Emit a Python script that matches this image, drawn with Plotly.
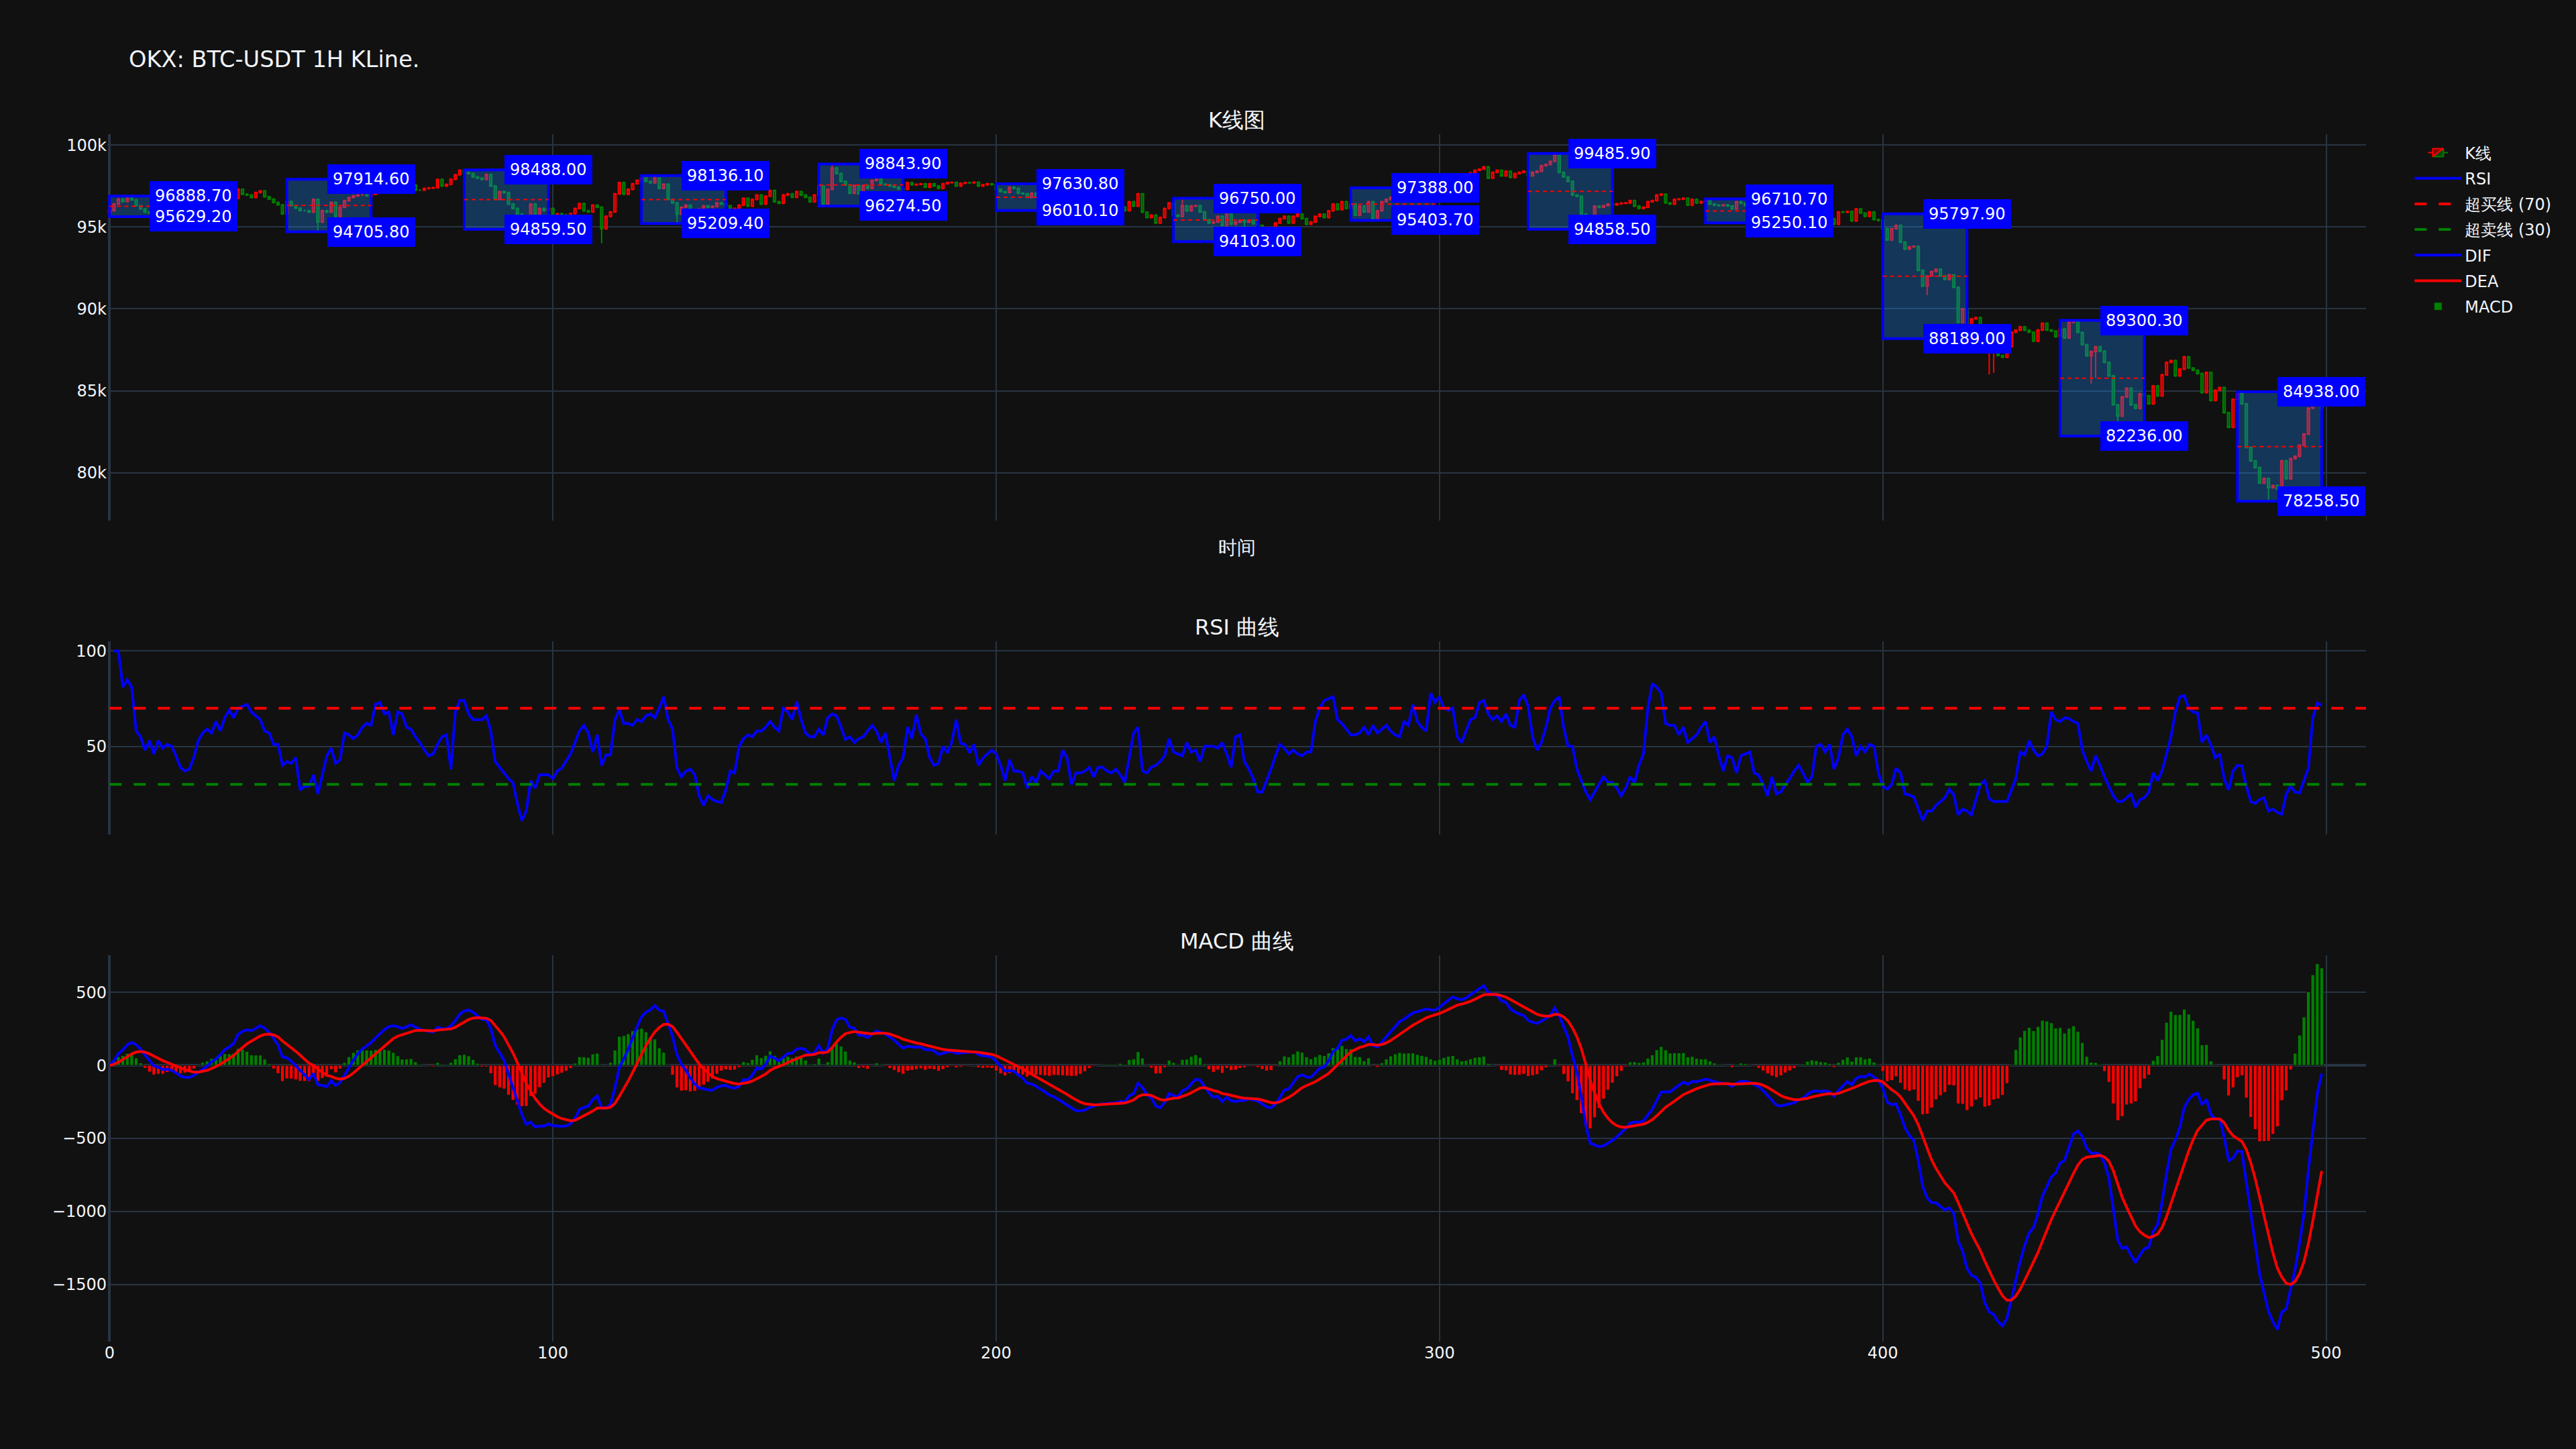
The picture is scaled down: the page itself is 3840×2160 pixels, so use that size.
import pandas as pd
import plotly.graph_objects as go
from plotly.subplots import make_subplots

# ---------------- data ----------------
closes = [
    96000, 96400, 96700, 96550, 96750, 96650, 96300, 96100, 95900, 95850,
    95750, 96000, 95900, 96050, 95950, 95800, 95700, 95780, 95850, 96000,
    96150, 96250, 96200, 96400, 96350, 96550, 96700, 96600, 96750, 97300,
    97000, 96950, 96800, 97100, 97200, 96850, 96700, 96500, 96350, 95800,
    96550, 96300, 96150, 96000, 96000, 95900, 96680, 95300, 96000, 95900,
    96500, 95650, 96200, 96600, 96800, 96900, 96950, 96950, 96900, 97000,
    97200, 97300, 97350, 97400, 97300, 97200, 97150, 97450, 97550, 97250,
    97250, 97350, 97380, 97400, 97900, 97500, 97600, 97910, 98190, 98460,
    98325, 98260, 98050, 97980, 97900, 98200, 97500, 96680, 97160, 97090,
    96400, 96130, 95780, 95700, 95600, 96400, 95780, 96130, 96000, 96130,
    95785, 95800, 95750, 95750, 95820, 96130, 96430, 95990, 95920, 96330,
    96200, 94890, 95650, 95920, 97020, 97710, 97000, 97300, 97640, 97850,
    97980, 97780, 97700, 97980, 97360, 97610, 96680, 96470, 95780, 96200,
    96330, 96060, 96060, 96100, 96290, 96200, 96250, 96470, 96400, 96300,
    96100, 96130, 96330, 96750, 96270, 96680, 96950, 96400, 96880, 97230,
    96540, 96450, 96950, 97020, 96810, 97160, 96950, 96810, 96540, 96950,
    97500, 96400, 97300, 98600, 98260, 97780, 97570, 97060, 97530, 97020,
    97530, 97360, 97840, 97910, 97610, 97570, 97500, 97430, 97320, 97300,
    97710, 97570, 97600, 97640, 97430, 97640, 97500, 97360, 97640, 97710,
    97720, 97500, 97670, 97710, 97700, 97730, 97500, 97570, 97640, 97580,
    97300, 97160, 97100, 97430, 97360, 97060, 97020, 96810, 97060, 96900,
    96800, 96700, 96600, 96650, 96500, 96400, 96300, 96200, 96150, 96250,
    96300, 96400, 96350, 96300, 96250, 96200, 96150, 96100, 96200, 96000,
    96540, 96270, 97020, 95900, 95580, 95720, 95240, 95580, 96130, 96470,
    95720, 95650, 96290, 95990, 96270, 96300, 95920, 95440, 95240, 95300,
    95650, 95100, 95780, 95170, 95300, 95400, 95300, 95400, 95200, 95100,
    94900, 94800, 94900, 95240, 95510, 95650, 95240, 95650, 95780, 95510,
    95170, 95300, 95650, 95780, 95580, 95990, 96400, 96060, 96540, 96130,
    96400, 95720, 96270, 95920, 96540, 95510, 95990, 96540, 96680, 96810,
    96900, 97000, 96950, 97100, 97200, 97150, 97250, 97300, 97200, 97300,
    97600, 97800, 97900, 98000, 97700, 97800, 98100, 98300, 98460, 98530,
    98670, 97980, 98330, 98460, 98120, 98400, 98020, 98260, 98330, 98400,
    98120, 98330, 98400, 98740, 98810, 99010, 99420, 98330, 98050, 97780,
    96950, 96880, 95780, 95030, 95300, 96270, 96200, 96300, 96400, 96350,
    96420, 96450, 96470, 96610, 96270, 96130, 96200, 96540, 96610, 96950,
    97000, 96470, 96400, 96680, 96700, 96750, 96330, 96680, 96470, 96550,
    96610, 96400, 96330, 96300, 96350, 96280, 96100, 96540, 96450, 96300,
    96200, 96100, 96000, 95800, 95600, 95500, 95400, 95600, 95700, 95650,
    95700, 95800, 95750, 95900, 95850, 95700, 95600, 95650, 95500, 95170,
    95920, 95900, 95950, 95370, 96100, 95850, 95650, 95920, 95450, 95400,
    94890, 94205, 94890, 95100, 94070, 93650, 93790, 93820, 92350, 91390,
    92010, 92280, 92420, 92010, 91800, 92080, 91320, 89180, 90000, 89000,
    89390, 89470, 88900, 87400, 87700, 87850, 87150, 87050, 87700, 88580,
    88700, 88900, 88700, 88580, 88030, 88710, 89120, 88710, 88650, 88300,
    88770, 88230, 89180, 89200, 88570, 87820, 87130, 87400, 87690, 87420,
    86735, 85915, 84140, 83460, 84620, 85160, 84140, 83930, 84820, 84700,
    84207, 85300, 84690, 85980, 86735, 86850, 85915, 86325, 87075, 86390,
    86255, 86050, 84890, 86120, 84410, 85030, 85200, 83660, 82770, 84480,
    84822, 84200, 81545, 80724, 80315, 79358, 79650, 79085, 79220, 79000,
    80724, 79630, 80860, 81000, 81680, 82365, 83935, 84300, 84700, 83950,
]
first_open = 95900
typical_wick = 60
# candles whose high / low reach visibly beyond the body
high_wicks = {4: 96888.7, 57: 97914.6, 80: 98488.0, 123: 98136.1, 163: 98843.9,
              200: 97630.8, 242: 96750.0, 299: 97388.0, 326: 99485.9, 360: 96710.7,
              400: 95797.9, 443: 89300.3, 480: 84938.0}
low_wicks = {10: 95629.2, 47: 94705.8, 93: 94859.5, 111: 94000.0, 128: 95209.4,
             161: 96274.5, 218: 96010.1, 256: 94103.0, 285: 95403.7, 333: 94858.5,
             376: 95250.1, 410: 90840.0, 419: 88189.0, 420: 88000.0, 424: 86000.0,
             425: 86100.0, 447: 85440.0, 448: 85780.0, 453: 82236.0, 487: 78258.5}

# RSI as plotted (first bar has no value)
rsi_values = [
    None, 100, 100, 81, 85, 81, 58, 55, 48, 53,
    46, 53, 49, 51, 50, 45, 39, 37, 38, 44,
    53, 57, 59, 57, 63, 58, 65, 69, 65, 70,
    71, 72, 68, 66, 64, 58, 57, 51, 51, 40,
    42, 41, 44, 27, 29, 29, 35, 25, 35, 45,
    49, 41, 43, 57, 56, 54, 56, 60, 62, 61,
    72, 73, 67, 68, 56, 68, 67, 60, 59, 55,
    52, 48, 45, 46, 51, 55, 56, 38, 68, 74,
    74, 67, 64, 64, 64, 66, 58, 42, 39, 36,
    33, 31, 20, 11, 16, 32, 28, 35, 35, 35,
    33, 37, 38.5, 42, 46, 52, 58, 61, 57, 47,
    56, 40, 45.5, 45.5, 64, 69, 62, 62, 61, 64,
    63, 66, 67, 65, 70, 76, 64, 59, 38.5, 34,
    37, 38, 35, 24, 19, 24, 22, 21, 20.5, 27,
    37, 36, 50, 54, 56, 55, 58, 58, 60, 63,
    60, 58, 70, 68, 64, 73.5, 64, 57, 55, 55,
    59, 56, 65, 67, 66, 60, 53.6, 55, 52, 54,
    55, 58, 61, 58, 52, 57, 45, 32, 40, 44,
    60, 54, 66.6, 56.5, 54, 44, 40, 41, 50, 46.6,
    52.4, 64, 51.5, 51, 46.6, 51, 40, 43.7, 46, 48,
    46, 40, 32, 43, 37, 37, 36, 28, 34, 31,
    37, 35, 33, 37, 37, 48, 44, 30, 36, 36,
    37, 39, 34, 39, 39, 37, 36, 38, 35, 31,
    45, 57, 60, 37, 36, 39, 40, 42, 45, 54,
    47, 46, 45, 52, 47, 48, 42, 50, 50, 50,
    49, 52, 46, 39, 55, 56, 42, 38, 33, 26,
    26, 32, 38, 45, 51, 49, 46, 48, 46, 45,
    47, 47, 63, 70, 74, 75, 76, 64, 62, 59,
    56, 56, 57, 60, 56, 61, 57, 59, 61, 58,
    56, 55, 63, 61, 72, 63, 60, 58, 78, 73,
    76, 70, 69, 70, 55, 52, 58, 64, 65, 73,
    74, 67, 64, 66, 63, 67, 61, 60, 74, 77,
    71, 55, 48, 52, 60, 70, 74, 76, 60, 50,
    50, 38, 32, 26, 22, 26, 30, 34, 31, 31,
    28, 24, 28, 34, 31, 40, 46, 70, 83, 81,
    78, 62, 61, 61, 56, 60, 52, 54, 56, 60,
    63, 52, 55, 45, 37, 45, 44, 36, 45, 46,
    47, 36, 35, 30, 24, 34, 25, 26, 30, 33,
    37, 40, 36, 31, 34, 50, 51, 47, 51, 38,
    44, 56, 59, 55, 45, 50, 47, 51, 50, 36,
    29, 27.5, 30, 38.5, 36, 25, 24.4, 23.4, 17.6, 11,
    16, 16, 19, 21, 23, 27.5, 24.6, 14, 17, 16,
    14, 22, 30, 32, 22.5, 21, 21, 21, 21, 27,
    33, 47, 45.5, 53, 48, 45, 46, 50, 68, 64,
    63, 65, 64.6, 63, 62, 48, 42, 37, 45, 40,
    34, 29, 24, 21, 21, 23, 25, 18, 22, 23,
    26, 36, 32, 37, 46, 55, 68, 76, 76.6, 70,
    68, 67.5, 52, 56, 50.7, 44, 46, 33, 27, 37,
    40, 39.7, 29, 21, 20, 22, 23, 16, 17, 15.3,
    14.4, 25, 29, 26, 25.5, 32, 38.5, 65, 72.7, 71.6,
]
overbought, oversold = 70, 30
box_starts = [0, 40, 80, 120, 160, 200, 240, 280, 320, 360, 400, 440, 480]
box_len = 20
level_extend = 10

title_text = "OKX: BTC-USDT 1H KLine."
subplot_names = ("K线图", "RSI 曲线", "MACD 曲线")

# ---------------- derived series ----------------
n = len(closes)
idx = list(range(n))
opens = [first_open] + closes[:-1]
highs = [high_wicks.get(i, max(opens[i], closes[i]) + typical_wick) for i in idx]
lows = [low_wicks.get(i, min(opens[i], closes[i]) - typical_wick) for i in idx]

s = pd.Series(closes, dtype=float)
ema12 = s.ewm(span=12, adjust=False).mean()
ema26 = s.ewm(span=26, adjust=False).mean()
dif = ema12 - ema26
dea = dif.ewm(span=9, adjust=False).mean()
hist = dif - dea
hist_colors = ["green" if v >= 0 else "red" for v in hist]

# ---------------- figure ----------------
fig = make_subplots(rows=3, cols=1, shared_xaxes=True, vertical_spacing=0.1,
                    row_heights=[0.4, 0.2, 0.4], subplot_titles=subplot_names)
for a in fig.layout.annotations:
    a.font = dict(size=32)

fig.add_trace(go.Candlestick(x=idx, open=opens, high=highs, low=lows, close=closes,
                             name="K线", legendgroup="k",
                             increasing=dict(line=dict(color="red", width=2)),
                             decreasing=dict(line=dict(color="green", width=2))),
              row=1, col=1)

fig.add_trace(go.Scatter(x=idx, y=rsi_values, mode="lines", name="RSI", legendgroup="rsi",
                         line=dict(color="blue", width=4)), row=2, col=1)
lvl_x = [idx[0], idx[-1] + level_extend]
fig.add_trace(go.Scatter(x=lvl_x, y=[overbought] * 2, mode="lines", name="超买线 (70)",
                         legendgroup="ob",
                         line=dict(color="red", width=4, dash="18px,18px")), row=2, col=1)
fig.add_trace(go.Scatter(x=lvl_x, y=[oversold] * 2, mode="lines", name="超卖线 (30)",
                         legendgroup="os",
                         line=dict(color="green", width=4, dash="18px,18px")), row=2, col=1)

fig.add_trace(go.Scatter(x=idx, y=dif, mode="lines", name="DIF", legendgroup="dif",
                         line=dict(color="blue", width=4)), row=3, col=1)
fig.add_trace(go.Scatter(x=idx, y=dea, mode="lines", name="DEA", legendgroup="dea",
                         line=dict(color="red", width=4)), row=3, col=1)
fig.add_trace(go.Bar(x=idx, y=hist, name="MACD", legendgroup="macd",
                     marker=dict(color=hist_colors, line=dict(color="rgb(17,17,17)", width=1))),
              row=3, col=1)

# boxes with high / low labels
for st in box_starts:
    en = st + box_len - 1
    hi = max(highs[st:en + 1])
    lo = min(lows[st:en + 1])
    fig.add_shape(type="rect", xref="x", yref="y", x0=st, x1=en, y0=lo, y1=hi,
                  line=dict(color="blue", width=4), fillcolor="rgba(30,144,255,0.3)")
    fig.add_shape(type="line", xref="x", yref="y", x0=st, x1=en, y0=(hi + lo) / 2, y1=(hi + lo) / 2,
                  line=dict(color="red", width=2, dash="6px,5px"))
    for val in (hi, lo):
        fig.add_annotation(x=en, y=val, xref="x", yref="y", text=f"{val:.2f}", showarrow=False,
                           bgcolor="blue", bordercolor="blue", borderwidth=4, borderpad=4,
                           font=dict(color="white", size=24))

fig.update_layout(
    template="plotly_dark",
    width=3840, height=2160,
    margin=dict(l=160, r=313, t=200, b=160),
    font=dict(family="DejaVu Sans", size=24),
    title=dict(text=title_text, x=0.05, font=dict(size=33.6)),
    legend=dict(font=dict(size=24), itemwidth=70, tracegroupgap=4, y=0.997),
    showlegend=True,
)
fig.update_xaxes(dtick=100, tick0=0, gridwidth=2, zerolinewidth=4, rangeslider_visible=False)
fig.update_yaxes(gridwidth=2, zerolinewidth=4)
fig.update_xaxes(title=dict(text="时间", font=dict(size=28), standoff=30), row=1, col=1)
fig.update_yaxes(dtick=5000, row=1, col=1)
fig.update_yaxes(dtick=50, range=[3.7, 105.1], row=2, col=1)
fig.update_yaxes(dtick=500, range=[-1890, 753], row=3, col=1)

fig.write_html("out.html")
